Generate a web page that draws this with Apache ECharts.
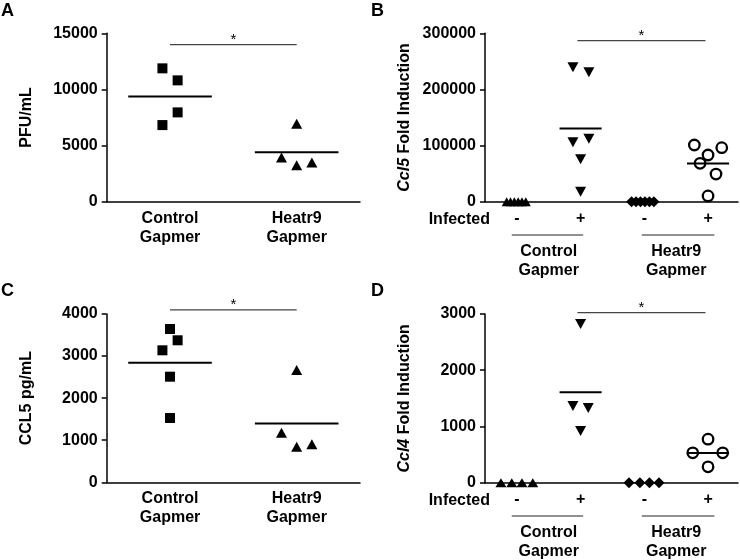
<!DOCTYPE html>
<html>
<head>
<meta charset="utf-8">
<script src="https://cdn.jsdelivr.net/npm/echarts@6/dist/echarts.min.js"></script>
<style>
html, body { margin: 0; padding: 0; background: #fff; }
#main { width: 740px; height: 560px; }
</style>
</head>
<body>
<div id="main"></div>
<script>
// A: virus titre (PFU/mL)
const pfuControl = [11880, 10810, 7960, 6830]
const pfuControlJitter = [-0.06, 0.06, 0.06, -0.06]
const pfuHeatr9 = [6950, 3950, 3250, 3500]
const pfuHeatr9Jitter = [0, -0.12, 0, 0.12]

// B: Ccl5 fold induction
const ccl5CtrlMock = [1, 1, 1, 1, 1, 1]
const ccl5CtrlMockJitter = [-0.16, -0.1, -0.04, 0.02, 0.08, 0.14]
const ccl5CtrlInf = [239400, 230500, 105800, 112200, 75500, 17800]
const ccl5CtrlInfJitter = [-0.12, 0.13, -0.12, 0.13, 0, 0]
const ccl5HeatMock = [1, 1, 1, 1, 1, 1]
const ccl5HeatMockJitter = [-0.2, -0.13, -0.06, 0.01, 0.08, 0.15]
const ccl5HeatInf = [101000, 96200, 83200, 68400, 49300, 10200]
const ccl5HeatInfJitter = [-0.215, 0.215, 0, -0.125, 0.125, 0]

// C: CCL5 protein (pg/mL)
const ccl5Control = [3643, 3375, 3137, 2510, 1528]
const ccl5ControlJitter = [0, 0.06, -0.06, 0, 0]
const ccl5Heatr9 = [2669, 1179, 846, 903]
const ccl5Heatr9Jitter = [0, -0.12, 0, 0.12]

// D: Ccl4 fold induction
const ccl4CtrlMock = [1, 1, 1, 1]
const ccl4CtrlMockJitter = [-0.25, -0.08, 0.08, 0.25]
const ccl4CtrlInf = [2823, 1364, 1328, 921]
const ccl4CtrlInfJitter = [0, -0.12, 0.12, 0]
const ccl4HeatMock = [1, 1, 1, 1]
const ccl4HeatMockJitter = [-0.24, -0.07, 0.08, 0.23]
const ccl4HeatInf = [774, 531, 531, 283]
const ccl4HeatInfJitter = [0, -0.24, 0.23, 0]

// labels
const groupNames = ['Control\nGapmer', 'Heatr9\nGapmer']
const infectedLabels = ['-', '+', '-', '+']
const panelLetters = ['A', 'B', 'C', 'D']
const yNames = ['PFU/mL', '{i|Ccl5} Fold Induction', 'CCL5 pg/mL', '{i|Ccl4} Fold Induction']
const yMax = [15000, 300000, 4000, 3000]
const yStep = [5000, 100000, 1000, 1000]
// significance bars: [panel, from, to, y]
const sigBars = [[0, 1, 2, 14000], [1, 1.95, 3.96, 286800], [2, 1, 2, 4100], [3, 1.95, 3.96, 3023]]

const FONT = '"Liberation Sans", Arial, Helvetica, sans-serif'
const chart = echarts.init(document.getElementById('main'))

function pts (center, vals, jit) {
  return vals.map((v, i) => [center + jit[i], v])
}
function mean (a) {
  return a.reduce((s, v) => s + v, 0) / a.length
}
function near (v, t) { return Math.abs(v - t) < 1e-6 }

const grids = [
  { left: 106.7, top: 33.3, width: 253.3, height: 168.5 },
  { left: 485, top: 33.3, width: 253, height: 168.4 },
  { left: 106.7, top: 314, width: 253.3, height: 168.3 },
  { left: 485, top: 314, width: 253, height: 168.7 }
]

const xAxes = grids.map((g, i) => {
  const two = i % 2 === 0
  return {
    gridIndex: i,
    type: 'value',
    min: 0.5,
    max: two ? 2.5 : 4.47,
    interval: 0.5,
    splitLine: { show: false },
    axisTick: { show: false },
    axisLine: { lineStyle: { color: '#000', width: 1.5 } },
    axisLabel: {
      color: '#000',
      fontFamily: FONT,
      fontWeight: 'bold',
      fontSize: 16,
      lineHeight: 19,
      margin: 7,
      showMinLabel: false,
      showMaxLabel: false,
      formatter: function (v) {
        if (two) {
          if (near(v, 1)) return groupNames[0]
          if (near(v, 2)) return groupNames[1]
          return ''
        }
        for (let k = 1; k <= 4; k++) if (near(v, k)) return infectedLabels[k - 1]
        return ''
      }
    }
  }
})

const yAxes = grids.map((g, i) => ({
  gridIndex: i,
  type: 'value',
  min: 0,
  max: yMax[i],
  interval: yStep[i],
  name: yNames[i],
  nameLocation: 'middle',
  nameGap: 72,
  nameTextStyle: {
    color: '#000',
    fontFamily: FONT,
    fontWeight: 'bold',
    fontSize: 16,
    rich: { i: { fontStyle: 'italic', fontWeight: 'bold', fontSize: 16, fontFamily: FONT, color: '#000' } }
  },
  splitLine: { show: false },
  axisLine: { show: true, lineStyle: { color: '#000', width: 1.5 } },
  axisTick: { show: true, length: 5, lineStyle: { color: '#000', width: 1.5 } },
  axisLabel: {
    color: '#000', fontFamily: FONT, fontWeight: 'bold', fontSize: 16, margin: 9,
    formatter: v => String(v)
  }
}))

const series = []
function addGroup (panel, center, vals, jit, symbol, opts) {
  const o = opts || {}
  series.push({
    type: 'scatter',
    xAxisIndex: panel,
    yAxisIndex: panel,
    symbol: symbol,
    symbolSize: o.size || 10,
    symbolRotate: o.rotate || 0,
    itemStyle: o.hollow
      ? { color: 'rgba(0,0,0,0)', borderColor: '#000', borderWidth: 2.3, opacity: 1 }
      : { color: '#000', opacity: 1 },
    data: pts(center, vals, jit),
    silent: true,
    z: 3
  })
  if (o.meanLine) {
    const m = mean(vals)
    series.push({
      type: 'line',
      xAxisIndex: panel,
      yAxisIndex: panel,
      symbol: 'none',
      lineStyle: { color: '#000', width: 2 },
      data: [[center - 0.33, m], [center + 0.33, m]],
      silent: true,
      z: 4
    })
  }
}

addGroup(0, 1, pfuControl, pfuControlJitter, 'rect', { meanLine: true })
addGroup(0, 2, pfuHeatr9, pfuHeatr9Jitter, 'triangle', { size: [11, 10], meanLine: true })

addGroup(1, 1, ccl5CtrlMock, ccl5CtrlMockJitter, 'triangle', { size: [10, 9] })
addGroup(1, 2, ccl5CtrlInf, ccl5CtrlInfJitter, 'triangle', { rotate: 180, size: [11, 10], meanLine: true })
addGroup(1, 3, ccl5HeatMock, ccl5HeatMockJitter, 'diamond', { size: 11 })
addGroup(1, 4, ccl5HeatInf, ccl5HeatInfJitter, 'circle', { hollow: true, size: 10.5, meanLine: true })

addGroup(2, 1, ccl5Control, ccl5ControlJitter, 'rect', { meanLine: true })
addGroup(2, 2, ccl5Heatr9, ccl5Heatr9Jitter, 'triangle', { size: [11, 10], meanLine: true })

addGroup(3, 1, ccl4CtrlMock, ccl4CtrlMockJitter, 'triangle', { size: [11, 9] })
addGroup(3, 2, ccl4CtrlInf, ccl4CtrlInfJitter, 'triangle', { rotate: 180, size: [11, 10], meanLine: true })
addGroup(3, 3, ccl4HeatMock, ccl4HeatMockJitter, 'diamond', { size: 11 })
addGroup(3, 4, ccl4HeatInf, ccl4HeatInfJitter, 'circle', { hollow: true, size: 10.5, meanLine: true })

chart.setOption({
  animation: false,
  backgroundColor: '#fff',
  grid: grids,
  xAxis: xAxes,
  yAxis: yAxes,
  series: series
})

// annotations placed through the axes
function px (panel, x, y) {
  return chart.convertToPixel({ gridIndex: panel }, [x, y])
}
const graphics = []
function text (t, x, y, size, align, vAlign, extra) {
  graphics.push({
    type: 'text',
    silent: true,
    style: Object.assign({
      text: t, x: x, y: y, fill: '#000',
      fontFamily: FONT, fontWeight: 'bold', fontSize: size,
      align: align, verticalAlign: vAlign
    }, extra || {})
  })
}
function line (x1, y1, x2, y2, color, w) {
  graphics.push({
    type: 'line',
    silent: true,
    shape: { x1: x1, y1: y1, x2: x2, y2: y2 },
    style: { stroke: color, lineWidth: w }
  })
}

panelLetters.forEach((l, i) => {
  text(l, i % 2 === 0 ? 1 : 371, i < 2 ? 2 : 282, 18, 'left', 'top')
})

sigBars.forEach(([p, a, b, y]) => {
  const p1 = px(p, a, y)
  const p2 = px(p, b, y)
  line(p1[0], p1[1], p2[0], p2[1], '#444', 1.2)
  text('*', (p1[0] + p2[0]) / 2, p1[1] - 5, 15, 'center', 'middle', { fontWeight: 'normal' })
})

;[1, 3].forEach(p => {
  const origin = px(p, 0.5, 0)
  text('Infected', origin[0] + 5, origin[1] + 17.5, 16, 'right', 'middle')
  const spans = [[0.92, 2.04, 1.5], [2.96, 4.1, 3.5]]
  spans.forEach((s, k) => {
    const a = px(p, s[0], 0)
    const b = px(p, s[1], 0)
    line(a[0], a[1] + 33.3, b[0], b[1] + 33.3, '#222', 1)
    const c = px(p, s[2], 0)
    text(groupNames[k], c[0], c[1] + 40, 16, 'center', 'top', { lineHeight: 19 })
  })
})

chart.setOption({ graphic: graphics })
</script>
</body>
</html>
